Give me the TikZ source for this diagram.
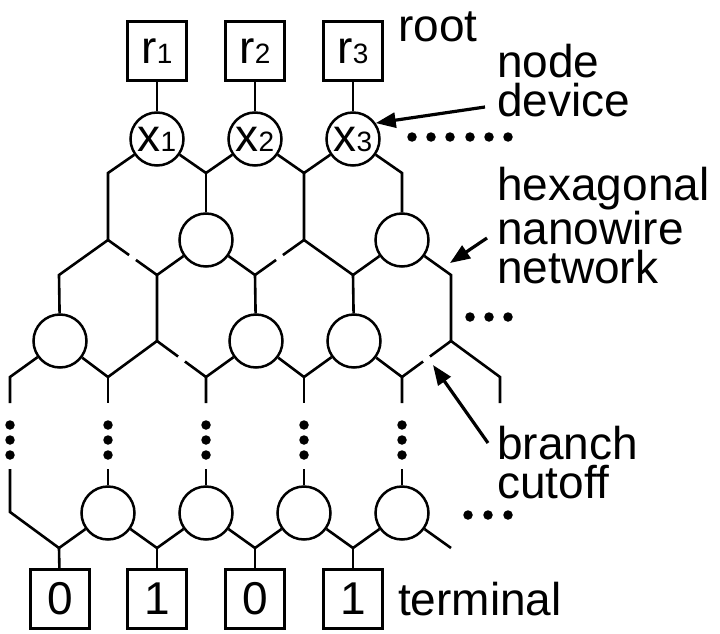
\documentclass[tikz,border=0pt]{standalone}
\usepackage{fontspec}
\setmainfont{Liberation Sans}
\usetikzlibrary{calc,arrows.meta}
\newcommand\smidx[1]{{\fontsize{28}{28}\selectfont #1}}
\begin{document}
\begin{tikzpicture}[x=1pt,y=-1pt,
  wire/.style={line width=2.6pt,line join=miter},
  dev/.style={circle,draw,line width=2.5pt,minimum size=53pt,inner sep=0pt,font=\fontsize{46}{46}\selectfont},
  lbox/.style={draw,line width=2.5pt,minimum width=59pt,minimum height=59pt,inner sep=0pt,font=\fontsize{46}{46}\selectfont},
  lbl/.style={font=\fontsize{46}{39}\selectfont,inner sep=0pt,align=left,anchor=base west},
  bigdot/.style={circle,fill,inner sep=0pt,minimum size=9.5pt},
  pointer/.style={line width=3.2pt,-{Triangle[length=20pt,width=15pt]}}
]
\useasboundingbox (0,0) rectangle (720,634);

% root boxes and top devices
\node[lbox] (r1) at (157,51) {r\smidx{1}};
\node[lbox] (r2) at (255,51) {r\smidx{2}};
\node[lbox] (r3) at (353,51) {r\smidx{3}};
\node[dev] (x1) at (157,139) {x\smidx{1}};
\node[dev] (x2) at (255,139) {x\smidx{2}};
\node[dev] (x3) at (353,139) {x\smidx{3}};

% lattice vertices
\coordinate (b2) at (108,173); \coordinate (b4) at (206,173);
\coordinate (b6) at (304,173); \coordinate (b8) at (402,173);
\coordinate (c2) at (108,240); \node[dev] (c4) at (206,240) {};
\coordinate (c6) at (304,240); \node[dev] (c8) at (402,240) {};
\coordinate (d1) at (59,275); \coordinate (d3) at (157,275); \coordinate (d5) at (255,275);
\coordinate (d7) at (353,275); \coordinate (d9) at (451,275);
\node[dev] (e1) at (60,341) {}; \coordinate (e3) at (157,341);
\node[dev] (e5) at (256,341) {}; \node[dev] (e7) at (354,341) {};
\coordinate (e9) at (451,341);
\foreach \k/\x in {0/10,2/108,4/206,6/304,8/402,10/500}{
  \coordinate (f\k) at (\x,377);
  \coordinate (s\k) at (\x,403);
}
\foreach \k/\x in {0/10,2/108,4/206,6/304,8/402}{
  \coordinate (t\k) at (\x,469);
  \node[bigdot] (v\k a) at (\x,425) {};
  \node[bigdot] (v\k b) at (\x,440) {};
  \node[bigdot] (v\k c) at (\x,455) {};
}
\coordinate (g0) at (10,512);
\node[dev] (g2) at (108,513) {}; \node[dev] (g4) at (206,513) {};
\node[dev] (g6) at (304,513) {}; \node[dev] (g8) at (402,513) {};
\coordinate (h1) at (59,548); \coordinate (h3) at (157,548);
\coordinate (h5) at (255,548); \coordinate (h7) at (353,548);
\coordinate (h9) at (451,548);

% terminal boxes
\node[lbox] (o1) at (60,599) {0};
\node[lbox] (o3) at (157,599) {1};
\node[lbox] (o5) at (255,599) {0};
\node[lbox] (o7) at (353,599) {1};

% wires: top part
\draw[wire] (r1) -- (x1); \draw[wire] (r2) -- (x2); \draw[wire] (r3) -- (x3);
\draw[wire] (x1) -- (b2) -- (c2) -- (d1) -- (e1);
\draw[wire] (x1) -- (b4) -- (x2);
\draw[wire] (b4) -- (c4);
\draw[wire] (x2) -- (b6) -- (x3);
\draw[wire] (b6) -- (c6) -- (d7) -- (c8);
\draw[wire] (x3) -- (b8) -- (c8);
\draw[wire] (c4) -- (d3) -- (e3);
\draw[wire] (c4) -- (d5) -- (e5);
\draw[wire] (d7) -- (e7);
\draw[wire] (c8) -- (d9) -- (e9) -- (f10) -- (s10);
\draw[wire] (e1) -- (f0) -- (s0);
\draw[wire] (e1) -- (f2) -- (e3);
\draw[wire] (f2) -- (s2);
\draw[wire] (e5) -- (f4) -- (s4);
\draw[wire] (e5) -- (f6) -- (e7);
\draw[wire] (f6) -- (s6);
\draw[wire] (e7) -- (f8) -- (s8);
% branch cutoffs
\draw[wire] (c2) -- ($(c2)!0.43!(d3)$) ($(c2)!0.57!(d3)$) -- (d3);
\draw[wire] (c6) -- ($(c6)!0.43!(d5)$) ($(c6)!0.57!(d5)$) -- (d5);
\draw[wire] (e3) -- ($(e3)!0.43!(f4)$) ($(e3)!0.57!(f4)$) -- (f4);
\draw[wire] (e9) -- ($(e9)!0.43!(f8)$) ($(e9)!0.57!(f8)$) -- (f8);

% wires: bottom part
\draw[wire] (t0) -- (g0) -- (h1) -- (g2);
\draw[wire] (g2) -- (h3) -- (g4);
\draw[wire] (g4) -- (h5) -- (g6);
\draw[wire] (g6) -- (h7) -- (g8);
\draw[wire] (g8) -- (h9);
\foreach \k in {2,4,6,8}{ \draw[wire] (t\k) -- (g\k); }
\draw[wire] (h1) -- (o1); \draw[wire] (h3) -- (o3);
\draw[wire] (h5) -- (o5); \draw[wire] (h7) -- (o7);

% horizontal dots
\foreach \i/\x in {1/412,2/431,3/450,4/470,5/489,6/508}{ \node[bigdot] (hd\i) at (\x,137) {}; }
\foreach \i/\x in {1/470,2/489,3/508}{ \node[bigdot] (md\i) at (\x,317) {}; }
\foreach \i/\x in {1/468,2/488,3/508}{ \node[bigdot] (ld\i) at (\x,515) {}; }

% labels (base anchor = baseline of the last line)
\node[lbl] (root) at (398,42) {root};
\node[lbl] (nd) at (497,116) {node\\device};
\node[lbl] (hx) at (497,283) {hexagonal\\nanowire\\network};
\node[lbl] (bc) at (497,498) {branch\\cutoff};
\node[lbl] (term) at (398,615) {terminal};

% pointers
\coordinate (p1) at (485,107);
\coordinate (p2s) at (487,238); \coordinate (p2e) at (450,263);
\coordinate (p3s) at (488,443); \coordinate (p3e) at (433,365);
\draw[pointer] (p1) -- (x3.35);
\draw[pointer] (p2s) -- (p2e);
\draw[pointer] (p3s) -- (p3e);
\end{tikzpicture}
\end{document}
